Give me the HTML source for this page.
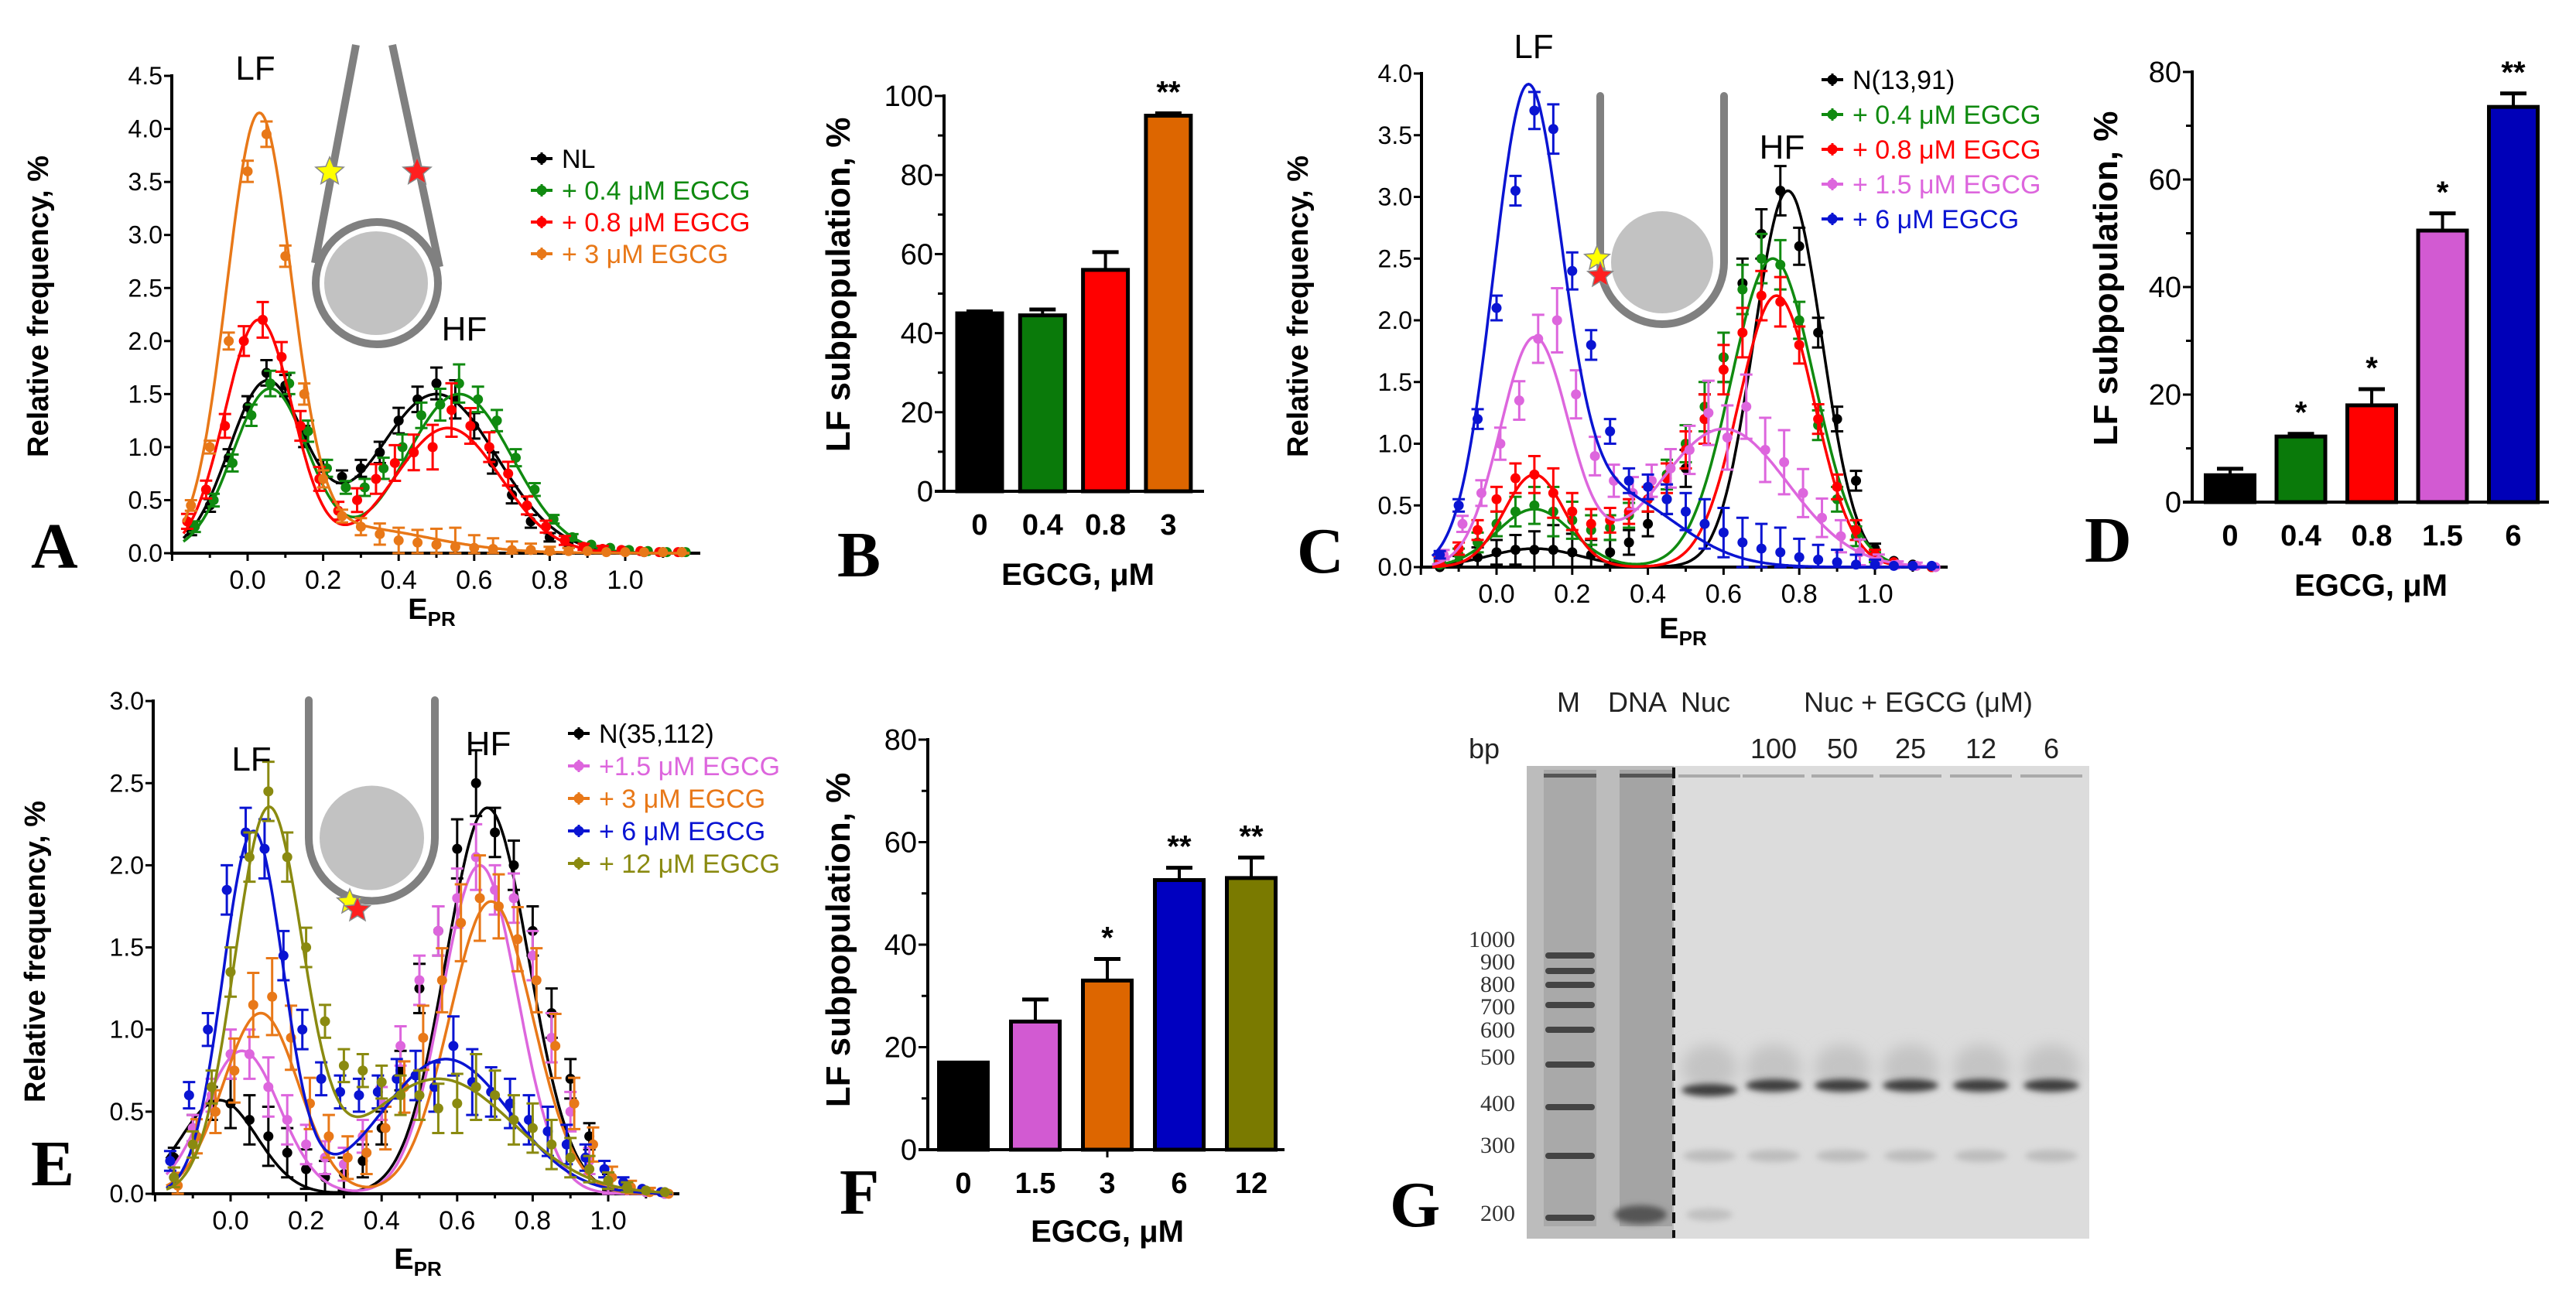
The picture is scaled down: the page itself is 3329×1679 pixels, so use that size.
<!DOCTYPE html>
<html><head><meta charset="utf-8"><style>
html,body{margin:0;padding:0;background:#fff;}
svg{display:block;font-family:"Liberation Sans",sans-serif;}
</style></head><body>
<svg id="fig" width="3329" height="1679" viewBox="0 0 3329 1679" xmlns="http://www.w3.org/2000/svg">
<defs>
<filter id="blur4" x="-20%" y="-100%" width="140%" height="300%"><feGaussianBlur stdDeviation="4"/></filter>
<filter id="blur8" x="-20%" y="-100%" width="140%" height="300%"><feGaussianBlur stdDeviation="9"/></filter>
</defs>
</svg>
<script>
// ---------- DATA ----------
const xs = [-0.15,-0.10,-0.05,0,0.05,0.10,0.15,0.20,0.25,0.30,0.35,0.40,0.45,0.50,0.55,0.60,0.65,0.70,0.75,0.80,0.85,0.90,0.95,1.00,1.05,1.10,1.15];

// Panel A
const aNames = ["NL","+ 0.4 μM EGCG","+ 0.8 μM EGCG","+ 3 μM EGCG"];
const aNL  = [0.22,0.45,0.9,1.38,1.7,1.58,1.1,0.8,0.72,0.8,0.95,1.25,1.45,1.6,1.45,1.2,0.85,0.55,0.3,0.15,0.08,0.05,0.03,0.02,0.01,0.01,0.01];
const aG04 = [0.25,0.5,0.85,1.3,1.6,1.6,1.15,0.8,0.62,0.62,0.8,1.0,1.3,1.4,1.6,1.45,1.25,0.9,0.6,0.32,0.15,0.08,0.05,0.03,0.02,0.01,0.01];
const aR08 = [0.3,0.6,1.2,2.0,2.2,1.85,1.2,0.7,0.4,0.5,0.7,0.85,0.95,1.0,1.35,1.2,1.0,0.75,0.45,0.25,0.12,0.06,0.04,0.03,0.02,0.01,0.01];
const aO3  = [0.45,1.0,2.0,3.6,3.95,2.8,1.5,0.7,0.35,0.25,0.18,0.12,0.1,0.08,0.06,0.05,0.04,0.03,0.03,0.02,0.02,0.02,0.01,0.01,0.01,0.01,0.01];
const aErr = [0.05,0.06,0.08,0.1,0.12,0.1,0.1,0.08,0.06,0.08,0.1,0.12,0.12,0.15,0.18,0.12,0.1,0.08,0.06,0.04,0.03,0.02,0.02,0.01,0.01,0.01,0.01];
// fit params: [amp1, mu1, sd1, amp2, mu2, sd2]
const aFitNL  = [1.6,0.05,0.1,1.5,0.5,0.16];
const aFitG04 = [1.55,0.06,0.1,1.5,0.56,0.14];
const aFitR08 = [2.2,0.03,0.09,1.18,0.53,0.14];
const aFitO3  = [4.0,0.03,0.085,0.25,0.25,0.22];

// Panel C
const cNames = ["N(13,91)","+ 0.4 μM EGCG","+ 0.8 μM EGCG","+ 1.5 μM EGCG","+ 6 μM EGCG"];
const cN   = [0.0,0.04,0.08,0.12,0.14,0.14,0.14,0.12,0.1,0.12,0.2,0.35,0.55,0.8,1.2,1.7,2.3,2.7,3.05,2.6,1.9,1.2,0.7,0.15,0.05,0.02,0.0];
const cG04 = [0.02,0.1,0.2,0.35,0.45,0.5,0.45,0.38,0.3,0.32,0.42,0.55,0.75,1.0,1.3,1.7,2.25,2.5,2.45,2.0,1.15,0.55,0.25,0.08,0.03,0.01,0.0];
const cR08 = [0.05,0.15,0.3,0.55,0.72,0.75,0.6,0.45,0.35,0.38,0.45,0.55,0.72,0.95,1.2,1.6,1.9,2.2,2.15,1.8,1.2,0.65,0.3,0.1,0.04,0.01,0.0];
const cM15 = [0.1,0.35,0.6,1.0,1.35,1.85,2.0,1.4,0.9,0.7,0.6,0.7,0.8,0.95,1.25,1.05,1.3,0.95,0.85,0.6,0.4,0.25,0.12,0.05,0.02,0.01,0.0];
const cB6  = [0.1,0.5,1.2,2.1,3.05,3.7,3.55,2.4,1.8,1.1,0.7,0.65,0.55,0.45,0.35,0.28,0.2,0.15,0.12,0.08,0.06,0.04,0.02,0.02,0.01,0.01,0.01];
const cErr = [0.03,0.05,0.08,0.1,0.12,0.15,0.2,0.15,0.12,0.1,0.1,0.1,0.12,0.15,0.2,0.2,0.2,0.2,0.2,0.15,0.12,0.1,0.08,0.04,0.02,0.02,0.01];
const cFitN   = [0.15,0.1,0.12,3.05,0.77,0.09];
const cFitG04 = [0.47,0.1,0.1,2.5,0.73,0.11];
const cFitR08 = [0.75,0.1,0.08,2.2,0.74,0.1];
const cFitM15 = [1.85,0.1,0.09,1.12,0.6,0.17];
const cFitB6  = [3.65,0.08,0.09,0.6,0.3,0.17];

// Panel E
const eNames = ["N(35,112)","+1.5 μM EGCG","+ 3 μM EGCG","+ 6 μM EGCG","+ 12 μM EGCG"];
const eN   = [0.22,0.4,0.55,0.55,0.45,0.35,0.25,0.15,0.1,0.12,0.2,0.4,0.75,1.25,1.6,2.1,2.5,2.2,2.0,1.6,1.1,0.7,0.35,0.07,0.03,0.01,0.0];
const eM15 = [0.1,0.4,0.6,0.85,0.85,0.65,0.45,0.3,0.22,0.18,0.35,0.55,0.9,1.3,1.6,1.8,2.05,1.85,1.8,1.45,0.95,0.5,0.2,0.05,0.02,0.01,0.0];
const eO3  = [0.05,0.35,0.5,0.75,1.15,1.2,0.95,0.55,0.35,0.22,0.25,0.4,0.65,0.95,1.3,1.65,1.8,1.75,1.55,1.3,0.9,0.55,0.3,0.1,0.04,0.01,0.0];
const eB6  = [0.2,0.6,1.0,1.85,2.2,2.1,1.45,1.0,0.7,0.62,0.6,0.62,0.7,0.72,0.65,0.9,0.68,0.62,0.55,0.45,0.38,0.3,0.22,0.15,0.07,0.03,0.01];
const eY12 = [0.1,0.3,0.65,1.35,2.05,2.45,2.05,1.5,1.05,0.78,0.75,0.68,0.6,0.6,0.52,0.55,0.65,0.6,0.45,0.4,0.3,0.22,0.15,0.08,0.04,0.02,0.01];
const eErr = [0.06,0.08,0.1,0.15,0.15,0.18,0.15,0.12,0.1,0.1,0.1,0.1,0.12,0.15,0.15,0.18,0.2,0.15,0.15,0.15,0.15,0.12,0.08,0.05,0.03,0.02,0.01];
const eFitN   = [0.57,-0.03,0.1,2.35,0.68,0.11];
const eFitM15 = [0.87,0.03,0.1,2.0,0.66,0.1];
const eFitO3  = [1.1,0.08,0.1,1.78,0.69,0.11];
const eFitB6  = [2.2,0.06,0.08,0.82,0.57,0.17];
const eFitY12 = [2.3,0.1,0.09,0.7,0.55,0.2];

// Bar panels
const bCats = ["0","0.4","0.8","3"];
const bVals = [45,44.5,56,95];
const bErrs = [0.5,1.5,4.5,0.6];
const bSig  = ["","","","**"];
const dCats = ["0","0.4","0.8","1.5","6"];
const dVals = [5,12.2,18,50.5,73.5];
const dErrs = [1.2,0.5,3,3.2,2.5];
const dSig  = ["","*","*","*","**"];
const fCats = ["0","1.5","3","6","12"];
const fVals = [17,25,33,52.6,53];
const fErrs = [0,4.3,4.2,2.4,4];
const fSig  = ["","","*","**","**"];

// Gel
const gelMarkers = ["1000","900","800","700","600","500","400","300","200"];
const gelLanes = ["100","50","25","12","6"];

// ---------- HELPERS ----------
const NS="http://www.w3.org/2000/svg";
const svg=document.getElementById('fig');
function mk(tag,attrs,parent){const e=document.createElementNS(NS,tag);for(const k in attrs)e.setAttribute(k,attrs[k]);(parent||svg).appendChild(e);return e;}
function txt(s,attrs,parent){const e=mk('text',attrs,parent);e.textContent=s;return e;}
function gauss2(p,x){return p[0]*Math.exp(-((x-p[1])**2)/(2*p[2]*p[2]))+p[3]*Math.exp(-((x-p[4])**2)/(2*p[5]*p[5]));}
function star(cx,cy,r,fill,parent){let pts=[];for(let i=0;i<10;i++){const rr=i%2?r*0.45:r;const a=-Math.PI/2+i*Math.PI/5;pts.push((cx+rr*Math.cos(a)).toFixed(1)+','+(cy+rr*Math.sin(a)).toFixed(1));}
 return mk('polygon',{points:pts.join(' '),fill:fill,stroke:'#888','stroke-width':1.5},parent);}

function linePanel(cfg){
  const g=mk('g',{});
  
  
  const X=v=>cfg.x0+v*cfg.xu, Y=v=>cfg.y0-v*cfg.yu;
  const yax=mk('line',{x1:cfg.ax,y1:Y(cfg.ymax)-2,x2:cfg.ax,y2:cfg.y0,stroke:'#000','stroke-width':4},g);
  
  const xax=mk('line',{x1:cfg.ax-2,y1:cfg.y0,x2:cfg.xend,y2:cfg.y0,stroke:'#000','stroke-width':4},g);
  
  for(let v=0;v<=cfg.ymax+1e-9;v+=0.5){
    mk('line',{x1:cfg.ax-10,y1:Y(v),x2:cfg.ax,y2:Y(v),stroke:'#000','stroke-width':3},g);
    const t=txt(v.toFixed(1),{x:cfg.ax-12,y:Y(v)+11,'font-size':32,'text-anchor':'end'},g);
    
  }
  for(let i=-2;i<=12;i++){const v=i/10;const px=X(v);if(px<cfg.ax-1||px>cfg.xend)continue;
    mk('line',{x1:px,y1:cfg.y0,x2:px,y2:cfg.y0+(i%2===0?10:6),stroke:'#000','stroke-width':3},g);
    if(i%2===0&&i>=0&&i<=10){const t=txt(v.toFixed(1),{x:px,y:cfg.y0+46,'font-size':34,'text-anchor':'middle'},g);
      }
  }
  const yt=txt('Relative frequency, %',{x:0,y:0,'font-size':38,'font-weight':'bold','text-anchor':'middle',transform:`translate(${cfg.ytx},${cfg.yty}) rotate(-90)`},g);
  
  const xt=txt('',{x:cfg.xtx,y:cfg.xty,'font-size':38,'font-weight':'bold','text-anchor':'middle'},g);
  
  const t1=document.createElementNS(NS,'tspan');t1.textContent='E';xt.appendChild(t1);
  const t2=document.createElementNS(NS,'tspan');t2.textContent='PR';t2.setAttribute('font-size','26');t2.setAttribute('dy','9');xt.appendChild(t2);
  cfg.series.forEach((s,si)=>{
    const sg=mk('g',{},g);
    
    
    let d='';for(let k=0;k<=300;k++){const v=-0.17+k*(1.34/300);d+=(k?'L':'M')+X(v).toFixed(1)+','+Y(gauss2(s.fit,v)).toFixed(1);}
    const fl=mk('path',{d:d,fill:'none',stroke:s.color,'stroke-width':3.5},sg);
    
    xs.forEach((xv,i)=>{
      const yv=s.vals[i], e=s.err[i]*(s.errScale||1);
      const px=X(xv+s.off), py=Y(yv);
      mk('line',{x1:px,y1:Y(yv+e),x2:px,y2:Y(Math.max(0,yv-e)),stroke:s.color,'stroke-width':3},sg);
      if(e>0.02){mk('line',{x1:px-8,y1:Y(yv+e),x2:px+8,y2:Y(yv+e),stroke:s.color,'stroke-width':3},sg);
      mk('line',{x1:px-8,y1:Y(Math.max(0,yv-e)),x2:px+8,y2:Y(Math.max(0,yv-e)),stroke:s.color,'stroke-width':3},sg);}
      const c=mk('circle',{cx:px,cy:py,r:6.5,fill:s.color},sg);
      
    });
    const ly=cfg.ly+si*cfg.lstep;
    const lg=mk('g',{},g);
    
    
    mk('line',{x1:cfg.lx-14,y1:ly,x2:cfg.lx+14,y2:ly,stroke:s.color,'stroke-width':4},lg);
    mk('line',{x1:cfg.lx,y1:ly-8,x2:cfg.lx,y2:ly+8,stroke:s.color,'stroke-width':3},lg);
    mk('circle',{cx:cfg.lx,cy:ly,r:6.5,fill:s.color},lg);
    txt(s.label,{x:cfg.lx+26,y:ly+12,'font-size':34,fill:s.color},lg);
  });
  return g;
}

function barPanel(cfg){
  const g=mk('g',{});
  
  
  const Y=v=>cfg.y0-v*cfg.yu;
  const yax=mk('line',{x1:cfg.ax,y1:Y(cfg.ymax)-2,x2:cfg.ax,y2:cfg.y0+2,stroke:'#000','stroke-width':4},g);
  
  const xax=mk('line',{x1:cfg.ax-12,y1:cfg.y0,x2:cfg.xend,y2:cfg.y0,stroke:'#000','stroke-width':4},g);
  
  for(let v=0;v<=cfg.ymax;v+=cfg.minor){const maj=(v%cfg.major===0);
    mk('line',{x1:cfg.ax-(maj?12:8),y1:Y(v),x2:cfg.ax,y2:Y(v),stroke:'#000','stroke-width':3},g);
    if(maj){const t=txt(String(v),{x:cfg.ax-14,y:Y(v)+13,'font-size':38,'text-anchor':'end'},g);
      }
  }
  cfg.cats.forEach((c,i)=>{
    const cx=cfg.c0+i*cfg.step, v=cfg.vals[i], e=cfg.errs[i];
    if(e>0){mk('line',{x1:cx,y1:Y(v),x2:cx,y2:Y(v+e),stroke:'#000','stroke-width':4},g);
      mk('line',{x1:cx-17,y1:Y(v+e),x2:cx+17,y2:Y(v+e),stroke:'#000','stroke-width':5},g);}
    const r=mk('rect',{x:cx-cfg.bw/2,y:Y(v),width:cfg.bw,height:cfg.y0-Y(v),fill:cfg.colors[i],stroke:'#000','stroke-width':5},g);
    
    const t=txt(c,{x:cx,y:cfg.y0+56,'font-size':38,'font-weight':'bold','text-anchor':'middle'},g);
    
    if(cfg.sig[i]){const s=txt(cfg.sig[i],{x:cx,y:Y(v+e)-14,'font-size':40,'font-weight':'bold','text-anchor':'middle'},g);
      }
  });
  if(cfg.tick3!=null){mk('line',{x1:cfg.c0+cfg.tick3*cfg.step,y1:cfg.y0,x2:cfg.c0+cfg.tick3*cfg.step,y2:cfg.y0+10,stroke:'#000','stroke-width':3},g);}
  const yt=txt('LF subpopulation, %',{x:0,y:0,'font-size':44,'font-weight':'bold','text-anchor':'middle',transform:`translate(${cfg.ytx},${cfg.yty}) rotate(-90)`},g);
  
  const xt=txt('EGCG, μM',{x:cfg.xtx,y:cfg.xty,'font-size':40,'font-weight':'bold','text-anchor':'middle'},g);
  
}

function panelLetter(s,x,y){const t=txt(s,{x:x,y:y,'font-size':84,'font-weight':'bold','font-family':'Liberation Serif, serif'});
  }
function label(s,x,y,name){const t=txt(s,{x:x,y:y,'font-size':44,'text-anchor':'middle'});
  }

// U-shaped DNA wrapped nucleosome: vertical arms from top down to cy, arc around bottom
function cartoonU(g,x1,x2,top,cy){
  const r=(x2-x1)/2;
  mk('path',{d:`M${x1},${top} L${x1},${cy} A${r},${r} 0 0 0 ${x2},${cy} L${x2},${top}`,fill:'none',stroke:'#808080','stroke-width':10,'stroke-linecap':'round'},g);
  mk('circle',{cx:(x1+x2)/2,cy:cy,r:r-12,fill:'#c2c2c2',stroke:'#fff','stroke-width':4},g);
}

// ---------- PANEL A ----------
(function(){
 const cg=mk('g',{});
 mk('line',{x1:460,y1:58,x2:407,y2:340,stroke:'#808080','stroke-width':10},cg);
 mk('line',{x1:507,y1:58,x2:568,y2:345,stroke:'#808080','stroke-width':10},cg);
 mk('circle',{cx:487,cy:366,r:79,fill:'#fff',stroke:'#808080','stroke-width':10},cg);
 mk('circle',{cx:486,cy:366,r:67,fill:'#c2c2c2'},cg);
 star(426,222,19,'#ffff00',cg);star(539,222,19,'#ff2020',cg);
})();
linePanel({name:'panel-a-fret-histogram',x0:320,xu:488,y0:715,yu:137.1,ymax:4.5,ax:222,xend:905,
 ytx:62,yty:396,xtx:558,xty:800,lx:700,ly:205,lstep:41,
 series:[
  {key:'nl',label:aNames[0],color:'#000000',vals:aNL,err:aErr,fit:aFitNL,off:0},
  {key:'0.4',label:aNames[1],color:'#108a10',vals:aG04,err:aErr,fit:aFitG04,off:0.01},
  {key:'0.8',label:aNames[2],color:'#ff0000',vals:aR08,err:aErr,fit:aFitR08,off:-0.01,errScale:1.4},
  {key:'3',label:aNames[3],color:'#e87818',vals:aO3,err:aErr,fit:aFitO3,off:0}
 ]});
label('LF',330,103,'lf-label-a');label('HF',600,440,'hf-label-a');
panelLetter('A',40,734);

// ---------- PANEL B ----------
barPanel({name:'panel-b-bar-chart',ax:1220,y0:635,yu:5.11,ymax:100,major:20,minor:10,xend:1556,
 c0:1266,step:81.3,bw:58,cats:bCats,vals:bVals,errs:bErrs,sig:bSig,colors:['#000000','#0a7a0a','#ff0000','#dd6600'],
 ytx:1098,yty:368,xtx:1393,xty:756});
panelLetter('B',1082,745);

// ---------- PANEL C ----------
(function(){
 const cg=mk('g',{});
 cartoonU(cg,2068,2228,124,339);
 star(2064,334,17,'#ffff00',cg);star(2068,356,17,'#ff2020',cg);
})();
linePanel({name:'panel-c-fret-histogram',x0:1934,xu:489,y0:733,yu:159.5,ymax:4.0,ax:1837,xend:2517,
 ytx:1690,yty:396,xtx:2175,xty:825,lx:2368,ly:103,lstep:45,
 series:[
  {key:'n13-91',label:cNames[0],color:'#000000',vals:cN,err:cErr,fit:cFitN,off:0},
  {key:'0.4',label:cNames[1],color:'#108a10',vals:cG04,err:cErr,fit:cFitG04,off:0},
  {key:'0.8',label:cNames[2],color:'#ff0000',vals:cR08,err:cErr,fit:cFitR08,off:0},
  {key:'1.5',label:cNames[3],color:'#dd66dd',vals:cM15,err:cErr,fit:cFitM15,off:0.01,errScale:1.3},
  {key:'6',label:cNames[4],color:'#0a14d2',vals:cB6,err:cErr,fit:cFitB6,off:0}
 ]});
label('LF',1982,75,'lf-label-c');label('HF',2303,205,'hf-label-c');
panelLetter('C',1676,740);

// ---------- PANEL D ----------
barPanel({name:'panel-d-bar-chart',ax:2833,y0:649,yu:6.95,ymax:80,major:20,minor:10,xend:3294,
 c0:2882,step:91.5,bw:63,cats:dCats,vals:dVals,errs:dErrs,sig:dSig,colors:['#000000','#0a7a0a','#ff0000','#d25ad2','#0000b8'],
 ytx:2736,yty:360,xtx:3064,xty:770});
panelLetter('D',2694,726);

// ---------- PANEL E ----------
(function(){
 const cg=mk('g',{});
 cartoonU(cg,399,562,905,1083);
 star(452,1166,17,'#ffff00',cg);star(462,1176,17,'#ff2020',cg);
})();
linePanel({name:'panel-e-fret-histogram',x0:298,xu:488,y0:1543,yu:212.3,ymax:3.0,ax:198,xend:878,
 ytx:58,yty:1230,xtx:540,xty:1640,lx:748,ly:948,lstep:42,
 series:[
  {key:'n35-112',label:eNames[0],color:'#000000',vals:eN,err:eErr,fit:eFitN,off:0},
  {key:'1.5',label:eNames[1],color:'#dd66dd',vals:eM15,err:eErr,fit:eFitM15,off:0},
  {key:'3',label:eNames[2],color:'#e87818',vals:eO3,err:eErr,fit:eFitO3,off:0.01,errScale:1.3},
  {key:'6',label:eNames[3],color:'#0a14d2',vals:eB6,err:eErr,fit:eFitB6,off:-0.01},
  {key:'12',label:eNames[4],color:'#8a8a10',vals:eY12,err:eErr,fit:eFitY12,off:0}
 ]});
label('LF',325,996,'lf-label-e');label('HF',631,976,'hf-label-e');
panelLetter('E',40,1532);

// ---------- PANEL F ----------
barPanel({name:'panel-f-bar-chart',ax:1199,y0:1486,yu:6.625,ymax:80,major:20,minor:10,xend:1660,
 c0:1245,step:93,bw:63,cats:fCats,vals:fVals,errs:fErrs,sig:fSig,colors:['#000000','#d25ad2','#dd6600','#0000c0','#7a7a00'],
 ytx:1098,yty:1215,xtx:1431,xty:1605,tick3:2});
panelLetter('F',1085,1569);

// ---------- PANEL G (gel) ----------
(function(){
 const g=mk('g',{});
 mk('rect',{x:1973,y:990,width:190,height:611,fill:'#bcbcbc'},g);
 mk('rect',{x:2163,y:990,width:537,height:611,fill:'#dcdcdc'},g);
 mk('rect',{x:1995,y:995,width:68,height:590,fill:'#a9a9a9'},g);
 mk('rect',{x:2093,y:995,width:68,height:590,fill:'#a4a4a4'},g);
 mk('rect',{x:1995,y:1000,width:68,height:5,fill:'#555'},g);
 mk('rect',{x:2093,y:1000,width:68,height:5,fill:'#555'},g);
 mk('line',{x1:2163,y1:992,x2:2163,y2:1600,stroke:'#111','stroke-width':4,'stroke-dasharray':'14,9'},g);
 const bandYs=[1235,1255,1273,1299,1331,1376,1431,1494,1574];
 const labYs=[1214,1243,1272,1301,1331,1366,1426,1480,1568];
 gelMarkers.forEach((m,i)=>{
   const b=mk('rect',{x:1997,y:bandYs[i]-4,width:64,height:8,rx:4,fill:'#444'},g);
   
   const t=txt(m,{x:1958,y:labYs[i]+10,'font-size':30,'text-anchor':'end','font-family':'Liberation Serif, serif',fill:'#333'},g);
   
 });
 mk('ellipse',{cx:2120,cy:1570,rx:34,ry:12,fill:'#555',filter:'url(#blur4)'},g);
 const laneXs=[2209,2292,2381,2469,2560,2651];
 laneXs.forEach((x,i)=>{
   mk('rect',{x:x-40,y:1001,width:80,height:4,fill:'#aaa'},g);
   mk('ellipse',{cx:x,cy:1380,rx:36,ry:30,fill:'#c4c4c4',filter:'url(#blur8)'},g);
   mk('ellipse',{cx:x,cy:i===0?1409:1403,rx:36,ry:8,fill:'#3c3c3c',filter:'url(#blur4)'},g);
   mk('ellipse',{cx:x,cy:1494,rx:34,ry:8,fill:'#bdbdbd',filter:'url(#blur4)'},g);
 });
 mk('ellipse',{cx:2209,cy:1570,rx:30,ry:8,fill:'#c0c0c0',filter:'url(#blur4)'},g);
 const hdr=[['M',2027],['DNA',2116],['Nuc',2204]];
 hdr.forEach(h=>{const t=txt(h[0],{x:h[1],y:920,'font-size':36,'text-anchor':'middle',fill:'#222'},g);
   });
 const t=txt('Nuc + EGCG (μM)',{x:2479,y:920,'font-size':36,'text-anchor':'middle',fill:'#222'},g);
 
 const bp=txt('bp',{x:1918,y:980,'font-size':36,'text-anchor':'middle',fill:'#222'},g);
 
 gelLanes.forEach((l,i)=>{const tt=txt(l,{x:laneXs[i+1],y:980,'font-size':36,'text-anchor':'middle',fill:'#222'},g);
   });
})();
panelLetter('G',1796,1585);
</script>
</body></html>
